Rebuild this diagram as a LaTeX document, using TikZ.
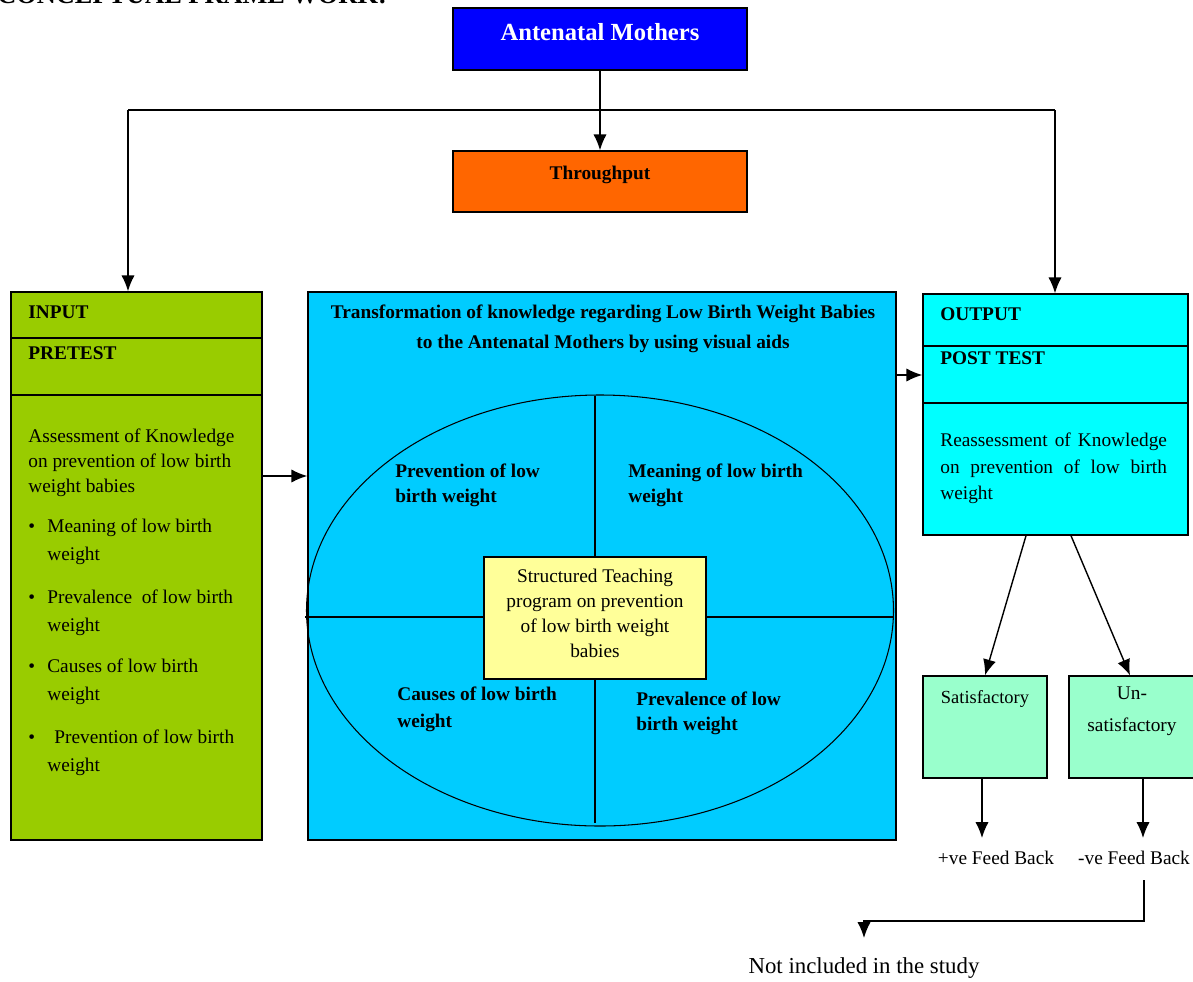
\documentclass[tikz,border=0pt]{standalone}
\usepackage{fontspec}
\setmainfont{Liberation Serif}
\usetikzlibrary{shapes}
\usetikzlibrary{arrows.meta}
\usetikzlibrary{fit}

\definecolor{motherblue}{RGB}{0,0,255}
\definecolor{throughorange}{RGB}{255,102,0}
\definecolor{inputgreen}{RGB}{153,204,0}
\definecolor{transblue}{RGB}{0,204,255}
\definecolor{outputcyan}{RGB}{0,255,255}
\definecolor{teachyellow}{RGB}{255,255,153}
\definecolor{feedgreen}{RGB}{153,255,204}

\begin{document}
\begin{tikzpicture}[x=0.02cm, y=-0.02cm,
    box/.style={draw, inner sep=0pt, line width=0.8pt},
    arr/.style={line width=0.8pt, -{Latex[length=9pt,width=7.5pt]}},
    txt/.style={inner sep=0pt, align=left, font=\fontsize{11}{14.2}\selectfont},
    boldtxt/.style={inner sep=0pt, align=left, font=\bfseries\fontsize{11}{14.2}\selectfont}]
    \useasboundingbox (0,0) rectangle (1193,981);

    \node[anchor=base west, inner sep=0pt, font=\bfseries\fontsize{15}{18}\selectfont] (heading) at (-3,3) {CONCEPTUAL FRAME WORK:};

    % boxes
    \node[box, fill=motherblue, fit={(453,8) (747,70)}] (mothers) {};
    \node[box, fill=throughorange, fit={(453,151) (747,212)}] (through) {};
    \node[box, fill=inputgreen, fit={(11,292) (262,840)}] (input) {};
    \node[box, fill=transblue, fit={(308,292) (896,840)}] (trans) {};
    \node[box, fill=outputcyan, fit={(923,294) (1188,535)}] (output) {};
    \node[box, fill=feedgreen, fit={(923,676) (1047,778)}] (satis) {};
    \node[box, fill=feedgreen, fit={(1069,676) (1198,778)}] (unsatis) {};

    \draw[line width=0.8pt] (input.west |- 0,338) -- (input.east |- 0,338);
    \draw[line width=0.8pt] (input.west |- 0,395) -- (input.east |- 0,395);
    \draw[line width=0.8pt] (output.west |- 0,346) -- (output.east |- 0,346);
    \draw[line width=0.8pt] (output.west |- 0,403) -- (output.east |- 0,403);

    % circle of teaching
    \draw[line width=0.6pt] (600,610.5) ellipse (293.5 and 215.5);
    \draw[line width=0.6pt] (595,396) -- (595,823);
    \draw[line width=0.6pt] (305,617) -- (894,617);
    \node[box, fill=teachyellow, fit={(484,557) (706,679)}] (teach) {};

    % texts
    \node[text=white, inner sep=0pt, font=\bfseries\fontsize{14}{16}\selectfont] (motherstxt) at (600,32) {Antenatal Mothers};
    \node[boldtxt] (throughtxt) at (600,175) {Throughput};

    \node[boldtxt, anchor=west] (inputtxt) at (28,312) {INPUT};
    \node[boldtxt, anchor=west] (pretesttxt) at (28,353) {PRETEST};
    \node[txt, anchor=north west] (assesstxt) at (28,429) {Assessment of Knowledge\\on prevention of low birth\\weight babies};
    \foreach \ty/\item [count=\i] in {527/Meaning of low birth, 598/Prevalence\ \ of low birth, 667/Causes of low birth, 738/\hspace{4pt}Prevention of low birth} {
        \node[txt, anchor=base west] (dot\i) at (28,\ty+5) {\textbullet};
        \node[txt, anchor=north west, font=\fontsize{11}{15.9}\selectfont] (item\i) at (47,\ty-8) {\item\\weight};
    }

    \node[boldtxt, align=center, anchor=north, font=\bfseries\fontsize{11}{17}\selectfont] (transtxt) at (603,305) {Transformation of knowledge regarding Low Birth Weight Babies\\to the Antenatal Mothers by using visual aids};
    \node[boldtxt, anchor=north west] (quadprev) at (395,464) {Prevention of low\\birth weight};
    \node[boldtxt, anchor=north west] (quadmean) at (628,464) {Meaning of low birth\\weight};
    \node[boldtxt, anchor=north west, font=\bfseries\fontsize{11}{15.3}\selectfont] (quadcause) at (397,687) {Causes of low birth\\weight};
    \node[boldtxt, anchor=north west] (quadpreval) at (636,692) {Prevalence of low\\birth weight};
    \node[txt, align=center, anchor=north] (teachtxt) at (595,569) {Structured Teaching\\program on prevention\\of low birth weight\\babies};

    \node[boldtxt, anchor=west] (outputtxt) at (940,314) {OUTPUT};
    \node[boldtxt, anchor=west] (posttesttxt) at (940,358) {POST TEST};
    \node[txt, anchor=north west, text width=129pt, align=justify, font=\fontsize{11}{15}\selectfont] (reassesstxt) at (940,433) {Reassessment of Knowledge\linebreak on prevention of low birth\linebreak weight};

    \node[txt, font=\fontsize{10.5}{13}\selectfont] (satistxt) at (985,699) {Satisfactory};
    \node[txt, align=center, anchor=north, font=\fontsize{11}{18.7}\selectfont] (unsatistxt) at (1132,686) {Un-\\satisfactory};

    \node[txt] (posfb) at (996,858) {+ve Feed Back};
    \node[txt] (negfb) at (1134,858) {-ve Feed Back};
    \node[inner sep=0pt, font=\fontsize{13}{15}\selectfont] (notinc) at (864,968) {Not included in the study};

    % connectors
    \coordinate (inleft) at (128,110);
    \coordinate (outright) at (1055,110);
    \coordinate (negdrop) at (1144,880);
    \coordinate (notinctop) at (864,938);
    \draw[arr] (mothers) -- (through);
    \draw[line width=0.8pt] (inleft) -- (outright);
    \draw[arr] (inleft) -- (inleft |- input.north);
    \draw[arr] (outright) -- (outright |- output.north);
    \draw[arr] (input.east |- 0,476) -- (trans.west |- 0,476);
    \draw[arr] (trans.east |- 0,375) -- (output.west |- 0,375);
    \draw[arr] (output.south -| 1026,0) -- (satis.north);
    \draw[arr] (output.south -| 1071,0) -- (unsatis.north -| 1130,0);
    \draw[arr] (satis.south -| 982,0) -- (982,838);
    \draw[arr] (unsatis.south -| 1143,0) -- (1143,838);
    \draw[arr] (negdrop) -- (1144,921) -| (notinctop);
\end{tikzpicture}
\end{document}
